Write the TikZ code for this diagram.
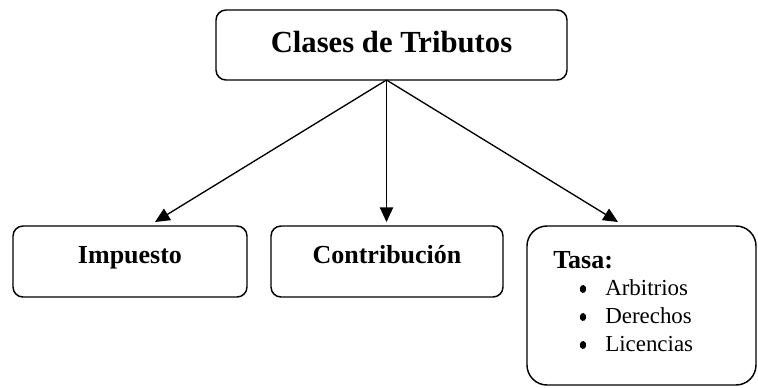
\documentclass[tikz,border=0pt]{standalone}
\usepackage{fontspec}
\setmainfont{Liberation Serif}
\usetikzlibrary{fit,arrows.meta}
\tikzset{
  box/.style={draw=black, line width=1.1pt, rounded corners=7.5pt, inner sep=0pt},
  conn/.style={line width=1pt, -{Triangle[length=11pt,width=10pt]}},
  bigtitle/.style={font=\bfseries\fontsize{23}{26}\selectfont, anchor=base, inner sep=0pt},
  boxtitle/.style={font=\bfseries\fontsize{19.5}{22}\selectfont, anchor=base, inner sep=0pt},
  item/.style={font=\fontsize{17.2}{20}\selectfont, anchor=base west, inner sep=0pt},
  dot/.style={circle, fill=black, minimum size=6pt, inner sep=0pt, xscale=0.8, rotate=30}
}
\begin{document}
\begin{tikzpicture}[x=0.75pt,y=-0.75pt]
\useasboundingbox (0,0) rectangle (758,387);
\node[box, fit={(216,10) (567,80)}] (top) {};
\node[bigtitle] (toptxt) at (391.5,52) {Clases de Tributos};
\node[box, fit={(13,226) (247,297)}] (imp) {};
\node[boxtitle] (imptxt) at (130,263) {Impuesto};
\node[box, fit={(271,226) (503,297)}] (con) {};
\node[boxtitle] (contxt) at (387,263) {Contribución};
\node[box, rounded corners=15pt, fit={(527,226) (756,385)}] (tasa) {};
\node[boxtitle, anchor=base west] (tasatxt) at (553,268) {Tasa:};
\node[dot] (d1) at (583,289) {};
\node[item] (i1) at (605,295) {Arbitrios};
\node[dot] (d2) at (583,317) {};
\node[item] (i2) at (605,323) {Derechos};
\node[dot] (d3) at (583,345) {};
\node[item] (i3) at (605,351) {Licencias};
\coordinate (apex) at (386.5,80);
\coordinate (e1) at (155,222);
\coordinate (e2) at (386.5,222);
\coordinate (e3) at (618,222);
\draw[conn] (apex) -- (e1);
\draw[conn] (apex) -- (e2);
\draw[conn] (apex) -- (e3);
\end{tikzpicture}
\end{document}
